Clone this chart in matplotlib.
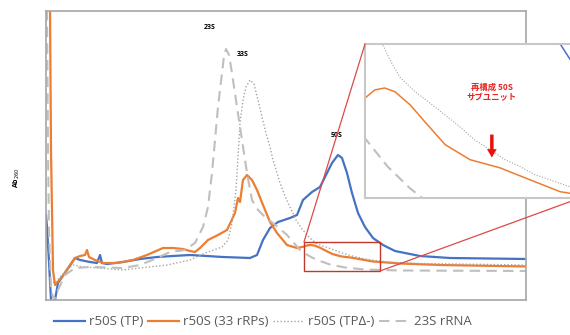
import matplotlib
matplotlib.use("Agg")
import matplotlib.pyplot as plt
from matplotlib.patches import Rectangle, ConnectionPatch

plt.rcParams['font.family'] = ['Open Sans', 'Noto Sans CJK JP', 'DejaVu Sans']

# フラクション番号 (0-48) と Ab260
tp_x = [0, 0.1, 0.3, 0.5, 0.7, 0.9, 1.2, 2.1, 2.9, 3.4, 4.4, 5.1, 5.4, 5.6, 6.1, 7.7, 9.4,
        11.1, 12.7, 14.4, 17.7, 20.4, 21.1, 21.7, 22.4, 23.2, 24.4, 25.1, 25.7, 26.6, 27.4,
        28.1, 28.6, 29.2, 29.6, 30.1, 30.6, 31.2, 31.9, 32.7, 33.7, 34.9, 37.4, 40.4, 48.1]
tp_y = [0.85, 0.73, 0.38, 0.0, -0.05, 0.0, 0.17, 0.30, 0.42, 0.40, 0.38, 0.37, 0.45, 0.37,
        0.36, 0.38, 0.41, 0.43, 0.44, 0.45, 0.43, 0.42, 0.45, 0.60, 0.72, 0.78, 0.82, 0.85,
        1.00, 1.08, 1.13, 1.27, 1.37, 1.45, 1.42, 1.27, 1.07, 0.87, 0.73, 0.62, 0.55, 0.49,
        0.44, 0.42, 0.41]

rp33_x = [0.2, 0.4, 0.5, 0.7, 0.9, 1.6, 2.4, 2.9, 3.4, 3.9, 4.1, 4.3, 4.9, 5.7, 7.1, 8.7, 10.1,
          11.7, 12.7, 13.7, 14.4, 14.9, 15.4, 16.2, 17.2, 18.1, 18.9, 19.2, 19.4, 19.7, 20.1,
          20.6, 21.1, 21.7, 22.4, 23.1, 24.1, 25.1, 25.8, 26.15, 26.5, 26.86, 27.4, 27.92,
          28.63, 29.51, 30.57, 31.63, 32.7, 33.4, 35.4, 39.4, 48.1]
rp33_y = [2.95, 2.95, 1.50, 0.30, 0.15, 0.23, 0.35, 0.42, 0.44, 0.45, 0.50, 0.43, 0.40, 0.37,
          0.37, 0.40, 0.45, 0.52, 0.52, 0.51, 0.49, 0.48, 0.52, 0.60, 0.65, 0.70, 0.87, 1.02,
          0.98, 1.20, 1.25, 1.20, 1.10, 0.95, 0.78, 0.67, 0.55, 0.52, 0.534, 0.547, 0.55, 0.544,
          0.523, 0.496, 0.46, 0.436, 0.423, 0.404, 0.385, 0.38, 0.365, 0.35, 0.335]

tpd_x = [0.4, 0.9, 1.4, 2.1, 2.7, 3.7, 5.4, 7.7, 9.4, 12.1, 14.4, 15.9, 17.6, 18.2, 18.6, 19.0,
         19.2, 19.4, 19.7, 20.0, 20.4, 20.8, 21.2, 21.6, 22.0, 22.4, 22.7, 23.1, 23.4, 23.9,
         24.4, 25.0, 25.6, 26.2, 26.68, 27.04, 27.57, 28.1, 28.63, 29.16, 29.69, 30.22, 30.75,
         31.28, 31.81, 32.34, 33.04, 34.4, 37.4, 48.1]
tpd_y = [0.20, 0.17, 0.23, 0.30, 0.35, 0.33, 0.32, 0.30, 0.32, 0.35, 0.40, 0.47, 0.53, 0.60,
         0.77, 1.10, 1.43, 1.77, 2.00, 2.13, 2.20, 2.16, 2.00, 1.83, 1.67, 1.53, 1.40, 1.27,
         1.17, 1.04, 0.93, 0.80, 0.71, 0.64, 0.595, 0.567, 0.544, 0.526, 0.507, 0.488, 0.467,
         0.452, 0.436, 0.425, 0.412, 0.404, 0.393, 0.38, 0.365, 0.35]

rrna_x = [0, 0.1, 0.2, 0.3, 0.5, 0.8, 1.2, 1.9, 2.9, 4.4, 7.7, 9.4, 11.1, 12.4, 13.9, 14.9,
          15.7, 16.2, 16.6, 16.9, 17.2, 17.6, 17.8, 18.0, 18.3, 18.6, 19.1, 19.6, 20.1, 20.6,
          21.2, 21.9, 22.7, 24.1, 25.4, 25.8, 26.6, 27.4, 28.4, 29.9, 31.9, 35.4, 48.1]
rrna_y = [2.89, 2.89, 1.50, 0.70, 0.10, 0.0, 0.10, 0.25, 0.32, 0.33, 0.32, 0.35, 0.42, 0.48,
          0.50, 0.57, 0.73, 0.93, 1.27, 1.60, 1.93, 2.27, 2.44, 2.51, 2.45, 2.27, 1.93, 1.60,
          1.27, 1.00, 0.90, 0.83, 0.77, 0.65, 0.50, 0.47, 0.425, 0.39, 0.355, 0.325, 0.305,
          0.295, 0.29]

labels = ['r50S (TP)', 'r50S (33 rRPs)', 'r50S (TPΔ-)', '23S rRNA']
peaks = [('23S', 16.4, 2.73), ('33S', 19.7, 2.45), ('50S', 29.1, 1.65)]
rect_x = (25.8, 33.4)
rect_y = (0.29, 0.58)
zoom_y = (0.375, 0.62)


def draw(ax, lw, lw_thin):
    ax.plot(tp_x, tp_y, color='#4472C4', lw=lw, label=labels[0])
    ax.plot(rp33_x, rp33_y, color='#ED7D31', lw=lw, label=labels[1])
    ax.plot(tpd_x, tpd_y, color='#A5A5A5', lw=lw_thin, ls=(0, (1, 1.5)), label=labels[2])
    ax.plot(rrna_x, rrna_y, color='#BFBFBF', lw=1.5, ls=(0, (5, 3)), label=labels[3])


fig = plt.figure(figsize=(5.7, 3.35), dpi=100)
ax = fig.add_axes([46 / 570, 35 / 335, 480 / 570, 289 / 335])
draw(ax, 1.6, 1.0)
ax.set_xlim(0, 48)
ax.set_ylim(0, 2.89)
ax.set_xticks([])
ax.set_yticks([])
for s in ax.spines.values():
    s.set_color('#A6A6A6')
    s.set_linewidth(1.2)

for name, px, py in peaks:
    ax.text(px, py, name, fontsize=5, fontweight='bold', ha='center', va='center')

fig.text(17 / 570, 0.469, 'Ab$_{260}$', rotation=90, fontsize=5, fontweight='bold',
         ha='center', va='center')

ax.add_patch(Rectangle((rect_x[0], rect_y[0]), rect_x[1] - rect_x[0], rect_y[1] - rect_y[0],
                       fill=False, ec='#C0392B', lw=1.0, zorder=5))

ins = fig.add_axes([365 / 570, 137 / 335, 215 / 570, 154 / 335])
ins.set_facecolor('white')
draw(ins, 1.1, 0.8)
ins.set_xlim(*rect_x)
ins.set_ylim(*zoom_y)
ins.set_xticks([])
ins.set_yticks([])
for s in ins.spines.values():
    s.set_color('#C8C8C8')
    s.set_linewidth(1.5)

ins.text(0.59, 0.685, '再構成 50S\nサブユニット', transform=ins.transAxes, color='#E8231F',
         fontsize=6, fontweight='bold', ha='center', va='center',
         family=['Noto Sans CJK JP', 'DejaVu Sans'], linespacing=1.1)
ins.annotate('', xy=(0.59, 0.245), xytext=(0.59, 0.43), xycoords='axes fraction',
             arrowprops=dict(arrowstyle='simple,head_width=0.7,head_length=0.6,tail_width=0.25',
                             color='#E8120C', lw=0))

for xa, ya, xb, yb in [(rect_x[0], rect_y[1], 0, 1), (rect_x[1], rect_y[0], 1, 0)]:
    con = ConnectionPatch(xyA=(xa, ya), coordsA=ax.transData, xyB=(xb, yb),
                          coordsB=ins.transAxes, color='#E04848', lw=0.9)
    fig.add_artist(con)

handles, _ = ax.get_legend_handles_labels()
fig.legend(handles, labels, loc='center', bbox_to_anchor=(0.461, 0.039), ncol=4, frameon=False,
           fontsize=9.5, handlelength=2.3, handletextpad=0.3, columnspacing=0.4,
           labelcolor='#595959')

fig.savefig('out.png', dpi=100)
